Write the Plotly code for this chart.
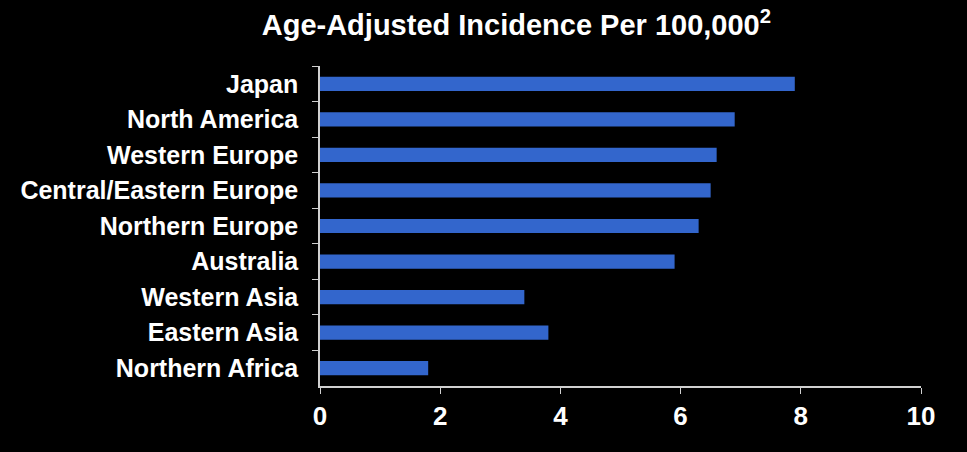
import plotly.graph_objects as go

regioes = ['Japan', 'North America', 'Western Europe', 'Central/Eastern Europe',
           'Northern Europe', 'Australia', 'Western Asia', 'Eastern Asia', 'Northern Africa']
incidencia = [7.9, 6.9, 6.6, 6.5, 6.3, 5.9, 3.4, 3.8, 1.8]
x_ticks = [0, 2, 4, 6, 8, 10]

fig = go.Figure()

fig.add_trace(go.Bar(x=incidencia, y=regioes, orientation='h',
                     marker=dict(color='#3366CC', line=dict(width=0)),
                     width=0.4))

fig.update_layout(title=dict(text='Age-Adjusted Incidence Per 100,000<sup>2</sup>',
                             x=0.534, xanchor='center', y=0.945, yanchor='middle',
                             font=dict(family='Liberation Sans', size=29, color='white', weight='bold')),
                  width=967, height=452,
                  paper_bgcolor='black', plot_bgcolor='black',
                  margin=dict(l=320, r=46, t=66, b=66),
                  showlegend=False,
                  font=dict(family='Liberation Sans', color='white', weight='bold'))

fig.update_xaxes(range=[0, 10], tickvals=x_ticks, showgrid=False, zeroline=False,
                 showline=True, linecolor='#d0d0d0', linewidth=1.5,
                 ticks='outside', ticklen=6, tickcolor='#d0d0d0',
                 tickfont=dict(size=26, color='white'))

fig.update_yaxes(autorange='reversed', showgrid=False, zeroline=False,
                 showline=True, linecolor='#d0d0d0', linewidth=1.5,
                 ticks='outside', ticklen=6, tickcolor='#d0d0d0', tickson='boundaries',
                 ticklabelstandoff=15,
                 tickfont=dict(size=25, color='white'))

# tira a margem branca da página
fig.write_html("out.html", config={'displayModeBar': False},
               post_script="document.body.style.margin='0';document.body.style.background='black';")
